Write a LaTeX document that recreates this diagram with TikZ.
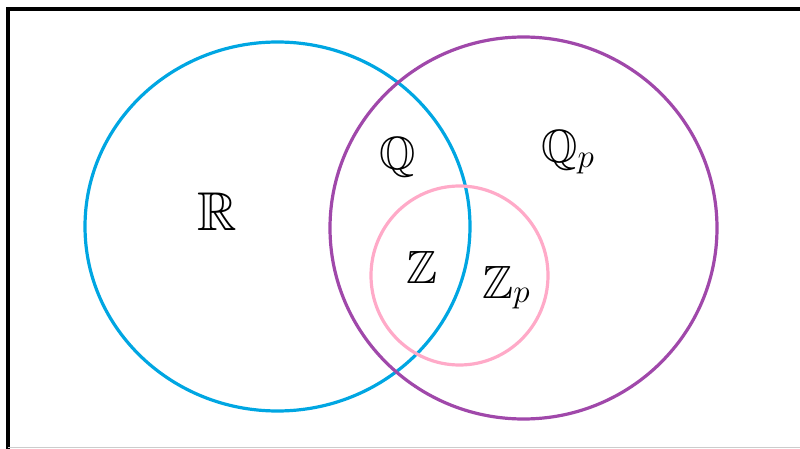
\documentclass[tikz,border=0pt]{standalone}
\usepackage{amssymb}
\definecolor{cblue}{RGB}{0,166,226}
\definecolor{cpurple}{RGB}{160,72,170}
\definecolor{cpink}{RGB}{255,170,200}
\begin{document}
\begin{tikzpicture}[x=0.75pt,y=-0.75pt,
  ring/.style={line width=2.4pt},
  lab/.style={inner sep=0pt,anchor=base west,font=\fontsize{35}{42}\selectfont}]
\useasboundingbox (0,0) rectangle (800,449);
\draw[line width=3pt] (8,449) -- (8,9) -- (801,9);
\draw[line width=0.8pt,black!20] (8,447.5) -- (800,447.5);
\coordinate (cR) at (277.5,226.5);
\coordinate (cQ) at (523.5,228);
\coordinate (cZ) at (459.5,275.5);
\draw[ring,cblue] (cR) ellipse [x radius=192.5,y radius=184.5];
\draw[ring,cpurple] (cQ) ellipse [x radius=193.5,y radius=191];
\draw[ring,cpink] (cZ) ellipse [x radius=88.5,y radius=89.5];
\node[lab,font=\fontsize{41}{48}\selectfont] (R) at (197,231) {$\mathbb{R}$};
\node[lab] (Q) at (379,170) {$\mathbb{Q}$};
\node[lab] (Qp) at (541,163) {$\mathbb{Q}_p$};
\node[lab] (Z) at (406,283) {$\mathbb{Z}$};
\node[lab] (Zp) at (482,298) {$\mathbb{Z}_p$};
\end{tikzpicture}
\end{document}
